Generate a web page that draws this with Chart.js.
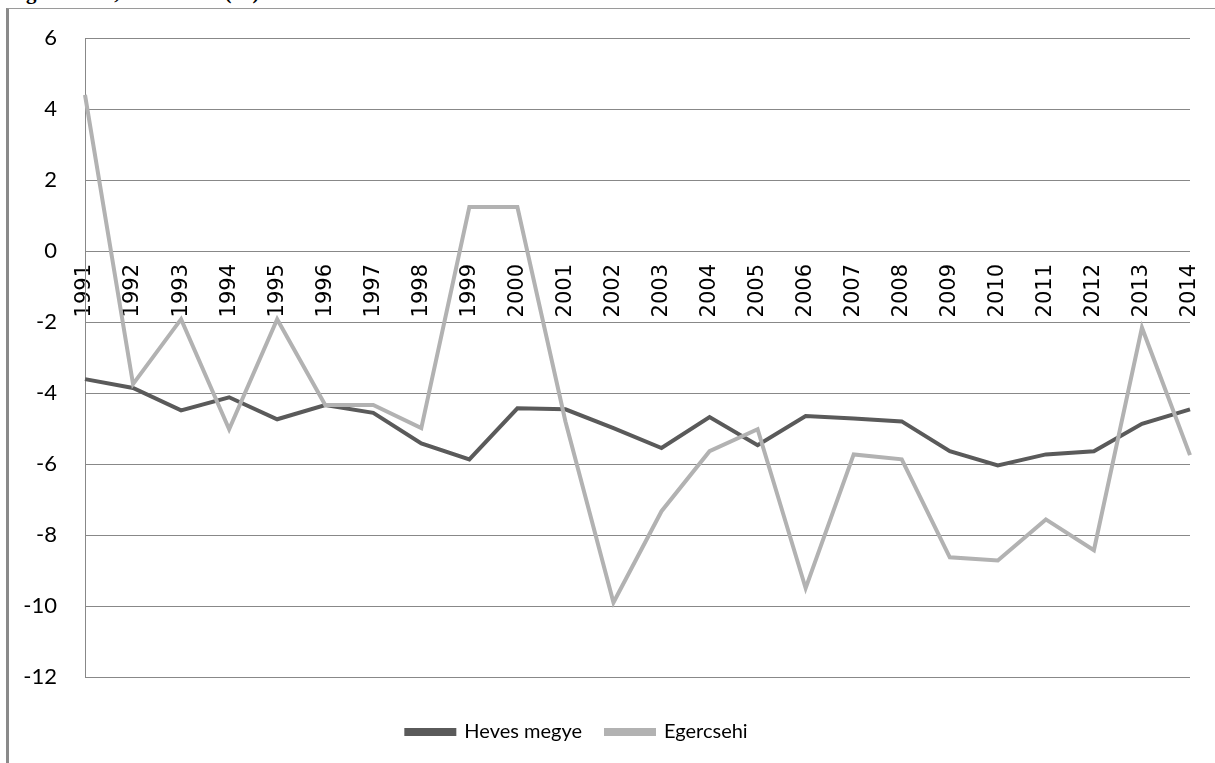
<!DOCTYPE html>
<html>
<head>
<meta charset="utf-8">
<script src="https://cdn.jsdelivr.net/npm/chart.js@4"></script>
<style>
  html, body { margin: 0; padding: 0; background: #fff; overflow: hidden; }
  #frame {
    position: absolute; left: 6px; top: 8px; right: 0; bottom: 0;
    border-left: 3px solid #8a8a8a; border-top: 1px solid #9a9a9a;
  }
  #caption {
    position: absolute; left: 26px; top: -20px;
    font: bold 21px "Liberation Serif", serif; color: #000; white-space: nowrap;
  }
  #wrap { position: absolute; left: 0; top: 0; width: 1215px; height: 763px; }
</style>
</head>
<body>
<div id="caption">gercsehen, 1991–2014 (%)</div>
<div id="frame"></div>
<div id="wrap"><canvas id="myChart" width="1215" height="763"></canvas></div>
<script>
// Data
var years = [
    "1991", "1992", "1993", "1994", "1995", "1996", "1997", "1998",
    "1999", "2000", "2001", "2002", "2003", "2004", "2005", "2006",
    "2007", "2008", "2009", "2010", "2011", "2012", "2013", "2014"
];
var heves = [
    -3.61, -3.86, -4.49, -4.12, -4.74, -4.34, -4.56, -5.42,
    -5.87, -4.43, -4.46, -4.99, -5.55, -4.68, -5.47, -4.65,
    -4.72, -4.80, -5.64, -6.04, -5.73, -5.64, -4.87, -4.46
];
var egercsehi = [
    4.40, -3.75, -1.92, -5.02, -1.92, -4.34, -4.34, -4.99,
    1.24, 1.24, -4.80, -9.90, -7.33, -5.64, -5.02, -9.50,
    -5.73, -5.87, -8.63, -8.72, -7.56, -8.43, -2.16, -5.75
];
var yTicks = [6, 4, 2, 0, -2, -4, -6, -8, -10, -12];

var ctx = document.getElementById("myChart").getContext("2d");

// Legend sits a bit left of centre in the original
var legendShift = {
    id: "legendShift",
    afterLayout: function(chart) {
        if (chart.legend) chart.legend.right -= 36;
    },
};

// axes should not push the plot area around
function noPadding(scale) {
    scale.paddingLeft = 0;
    scale.paddingRight = 0;
    scale.paddingTop = 0;
    scale.paddingBottom = 0;
}

var chart = new Chart(ctx, {
    type: "line",
    data: {
        labels: years,
        datasets: [{
            label: "Heves megye",
            data: heves,
            borderColor: "#5a5a5a",
            backgroundColor: "#5a5a5a",
            borderWidth: 4,
            pointRadius: 0,
            tension: 0,
            order: 2,
        }, {
            label: "Egercsehi",
            data: egercsehi,
            borderColor: "#b2b2b2",
            backgroundColor: "#b2b2b2",
            borderWidth: 4,
            pointRadius: 0,
            tension: 0,
            order: 1,
        }],
    },
    plugins: [legendShift],
    options: {
        responsive: false,
        animation: false,
        layout: {
            padding: { left: 0, right: 25, top: 38, bottom: 11 },
        },
        plugins: {
            tooltip: { enabled: false },
            legend: {
                position: "bottom",
                labels: {
                    color: "#000",
                    font: { family: "Lato", size: 20 },
                    boxWidth: 48,
                    boxHeight: 4,
                    padding: 24,
                    sort: function(a, b) { return a.datasetIndex - b.datasetIndex; },
                },
            },
        },
        scales: {
            x: {
                type: "category",
                position: { y: 0 },
                offset: false,
                grid: { display: false },
                border: { display: false },
                afterFit: noPadding,
                ticks: {
                    color: "#000",
                    font: { family: "DejaVu Sans", size: 21 },
                    minRotation: 90,
                    maxRotation: 90,
                    autoSkip: false,
                    padding: 5,
                },
            },
            // empty axis, only keeps a gap above the legend
            gap: {
                type: "category",
                position: "bottom",
                grid: { display: false },
                border: { display: false },
                ticks: { display: false },
                afterFit: function(scale) {
                    noPadding(scale);
                    scale.height = 21;
                },
            },
            y: {
                min: -12,
                max: 6,
                afterBuildTicks: function(scale) {
                    scale.ticks = yTicks.map(function(v) { return { value: v }; });
                },
                afterFit: function(scale) {
                    noPadding(scale);
                    scale.width = 85;
                },
                grid: { color: "#888", lineWidth: 1, drawTicks: false },
                border: { display: true, color: "#888", width: 1 },
                ticks: {
                    color: "#000",
                    font: { family: "Lato", size: 22 },
                    padding: 28,
                },
            },
        },
    },
});
</script>
</body>
</html>
